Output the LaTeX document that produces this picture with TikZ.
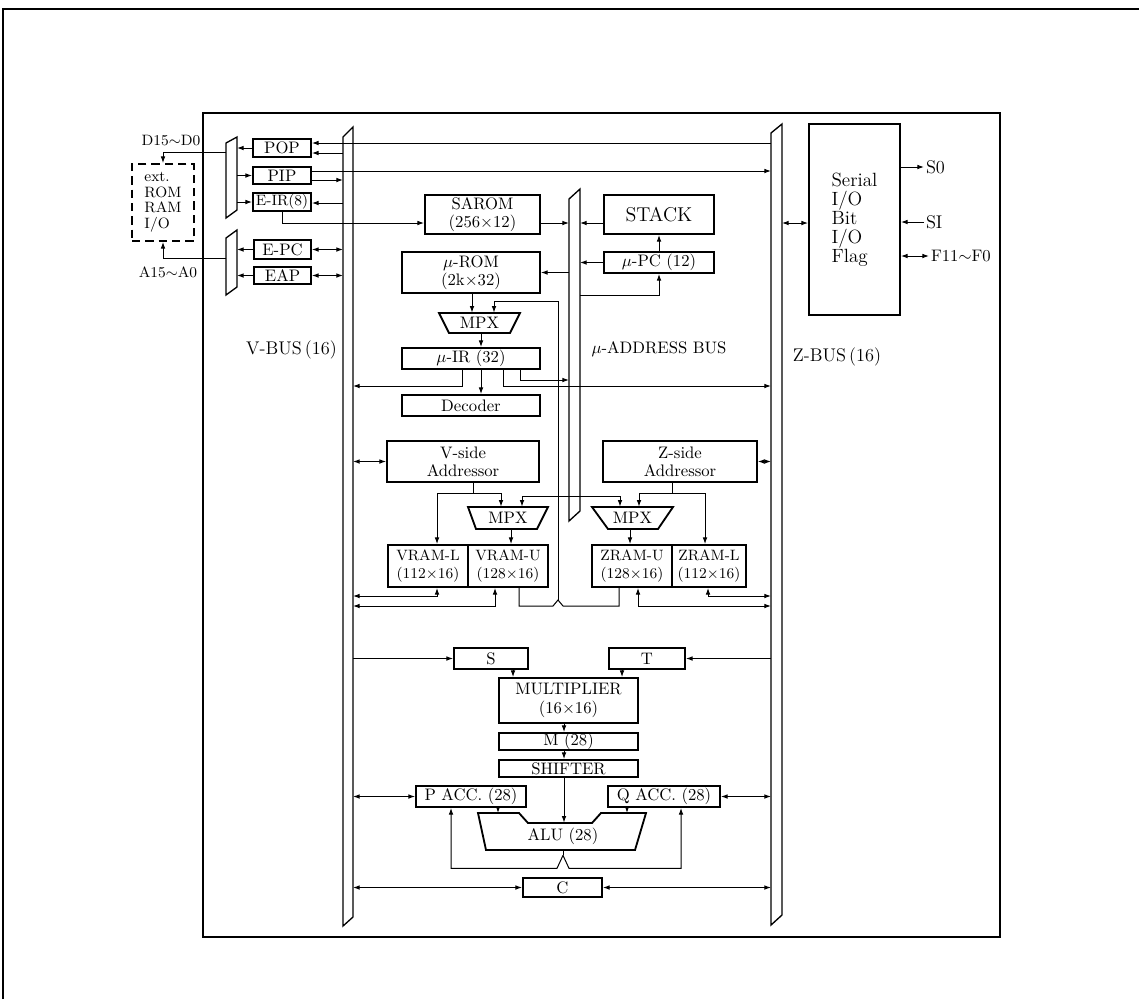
\documentclass[tikz,border=0pt]{standalone}
\usepackage{amsmath,amssymb}
\usepackage{tikz}
\usetikzlibrary{calc,arrows.meta}

\begin{document}
\begin{tikzpicture}[x=0.6pt, y=-0.6pt,
        blk/.style={draw, line width=1.1pt, inner sep=0pt, align=center, font=\fontsize{10}{11}\selectfont},
        wd/.style={minimum width=#1*0.6pt},
        ht/.style={minimum height=#1*0.6pt},
        lbl/.style={inner sep=1pt, font=\fontsize{10}{12}\selectfont},
        bus/.style={draw, line width=0.8pt},
        wire/.style={draw, line width=0.6pt},
        arr/.style={wire, -{Latex[length=4pt,width=2.8pt]}},
        darr/.style={wire, {Latex[length=4pt,width=2.8pt]}-{Latex[length=4pt,width=2.8pt]}}]
        \useasboundingbox (0,0) rectangle (1139,999);
        % frames
        \path[draw, line width=1.4pt](3,999)--(3,9)--(1139,9);
        \path[draw, line width=0.8pt](203,113)rectangle(1000,937);
        % buses
        \path[bus](343,137)--(353,127)--(353,917)--(343,926)--cycle;
        \path[bus](771,133)--(782,124)--(782,915)--(771,925)--cycle;
        \path[bus](569,199)--(580,189)--(580,511)--(569,521)--cycle;
        \coordinate (vL) at (343,0); \coordinate (vR) at (353,0);
        \coordinate (zL) at (771,0); \coordinate (zR) at (782,0);
        \coordinate (uL) at (569,0); \coordinate (uR) at (580,0);
        \node[lbl, font=\fontsize{11}{13}\selectfont] (vbl) at (291.5,350) {V-BUS\,(16)};
        \node[lbl] (ubl) at (659,349) {$\mu$-ADDRESS BUS};
        \node[lbl, font=\fontsize{11}{13}\selectfont] (zbl) at (837,357) {Z-BUS\,(16)};
        % external side
        \path[bus](226,143)--(237,137)--(237,210)--(226,218)--cycle;
        \path[bus](226,238)--(237,230)--(237,287)--(226,295)--cycle;
        \coordinate (mL) at (226,0); \coordinate (mR) at (237,0);
        \node[blk, dashed, dash pattern=on 5pt off 3pt, wd=62, ht=77, align=left, font=\fontsize{9}{9.3}\selectfont] (ext) at (163,202.5) {ext.\\ROM\\RAM\\I/O};
        \node[lbl, font=\fontsize{9}{11}\selectfont] (dlab) at (171,141) {D15$\sim$D0};
        \node[lbl, font=\fontsize{9}{11}\selectfont] (alab) at (168,272) {A15$\sim$A0};
        \path[arr](mL |- 0,152)-|(ext.north);
        \path[arr](mL |- 0,258)-|(ext.south);
        \node[blk, wd=58, ht=18] (pop) at (282,148) {POP};
        \node[blk, wd=58, ht=17] (pip) at (282,175.5) {PIP};
        \node[blk, wd=58, ht=18, font=\fontsize{9}{10}\selectfont] (eir) at (282,202) {E-IR(8)};
        \node[blk, wd=57, ht=19] (epc) at (282.5,249.5) {E-PC};
        \node[blk, wd=57, ht=17] (eap) at (282.5,275.5) {EAP};
        \path[arr](pop.west)--(mR |- pop.west);
        \path[arr](mR |- pip.west)--(pip.west);
        \path[arr](mR |- eir.west)--(eir.west);
        \path[arr](epc.west)--(mR |- epc.west);
        \path[arr](eap.west)--(mR |- eap.west);
        \path[arr](zL |- 0,143)--(pop.east |- 0,143);
        \path[arr](vL |- 0,153)--(pop.east |- 0,153);
        \path[arr](pip.east |- 0,171)--(zL |- 0,171);
        \path[arr](pip.east |- 0,180)--(vL |- 0,180);
        \path[arr](vL |- 0,203)--(eir.east |- 0,203);
        \path[darr](epc.east)--(vL |- epc.east);
        \path[darr](eap.east)--(vL |- eap.east);
        % sequencer
        \node[blk, wd=115, ht=39] (sarom) at (482.5,214.5) {SAROM\\(256$\times$12)};
        \node[blk, wd=110, ht=39, font=\fontsize{12}{14}\selectfont] (stack) at (659,214.5) {STACK};
        \node[blk, wd=110, ht=21] (upc) at (659,262.5) {$\mu$-PC (12)};
        \node[blk, wd=138, ht=41] (urom) at (471,272.5) {$\mu$-ROM\\(2k$\times$32)};
        \node[lbl, inner sep=0pt, wd=81, ht=20] (mpxa) at (479.5,323) {MPX};
        \path[draw, line width=1.1pt](439,313)--(520,313)--(510,333)--(449,333)--cycle;
        \node[blk, wd=138, ht=21] (uir) at (471,358.5) {$\mu$-IR (32)};
        \node[blk, wd=138, ht=21] (dec) at (471,405.5) {Decoder};
        \path[arr](eir.south)|-(sarom.west |- 0,223);
        \path[arr](sarom.east |- 0,223)--(uL |- 0,223);
        \path[arr](stack.west |- 0,223)--(uR |- 0,223);
        \path[arr](upc.north)--(stack.south);
        \path[arr](upc.west)--(uR |- upc.west);
        \path[arr](uR |- 0,295)-|(upc.south);
        \path[arr](uL |- urom.east)--(urom.east);
        \path[arr](urom.south -| 472,0)--(mpxa.north -| 472,0);
        \coordinate (fb) at (558,600);
        \path[arr](fb)|-(494,301)--(mpxa.north -| 494,0);
        \path[arr](mpxa.south -| 481,0)--(uir.north -| 481,0);
        \path[arr](uir.south -| 481,0)--(dec.north -| 481,0);
        \path[arr](uir.south -| 462,0)|-(vR |- 0,386);
        \path[arr](uir.south -| 503,0)|-(zL |- 0,386);
        \path[arr](uir.south -| 520,0)|-(uL |- 0,380);
        % data memory
        \node[blk, wd=152, ht=41] (vadr) at (463,461.5) {V-side\\Addressor};
        \node[blk, wd=154, ht=41] (zadr) at (680,461.5) {Z-side\\Addressor};
        \path[darr](vR |- vadr.west)--(vadr.west);
        \path[darr](zadr.east)--(zL |- zadr.east);
        \node[lbl, inner sep=0pt, wd=80, ht=22] (mpxb) at (508,518) {MPX};
        \path[draw, line width=1.1pt](468,507)--(548,507)--(537,529)--(476,529)--cycle;
        \node[lbl, inner sep=0pt, wd=81, ht=22] (mpxc) at (632.5,518) {MPX};
        \path[draw, line width=1.1pt](592,507)--(673,507)--(658,529)--(608,529)--cycle;
        \node[blk, wd=80, ht=42, font=\fontsize{9}{10.5}\selectfont] (vraml) at (428,566) {VRAM-L\\(112$\times$16)};
        \node[blk, wd=80, ht=42, font=\fontsize{9}{10.5}\selectfont] (vramu) at (508,566) {VRAM-U\\(128$\times$16)};
        \node[blk, wd=80, ht=42, font=\fontsize{9}{10.5}\selectfont] (zramu) at (632,566) {ZRAM-U\\(128$\times$16)};
        \node[blk, wd=74, ht=42, font=\fontsize{9}{10.5}\selectfont] (zraml) at (709,566) {ZRAM-L\\(112$\times$16)};
        \path[draw, wire](vadr.south -| 473,0)--(473,493)coordinate(vj);
        \path[arr](vj)-|(vraml.north -| 437,0);
        \path[arr](vj)-|(mpxb.north -| 501,0);
        \path[draw, wire](zadr.south -| 672,0)--(672,493)coordinate(zj);
        \path[arr](zj)-|(mpxc.north -| 639,0);
        \path[arr](zj)-|(zraml.north -| 705,0);
        \path[darr](mpxb.north -| 522,0)|-(620,496)--(mpxc.north -| 620,0);
        \path[arr](mpxb.south -| 511,0)--(vramu.north -| 511,0);
        \path[arr](mpxc.south -| 630,0)--(zramu.north -| 630,0);
        \path[darr](vR |- 0,596)-|(vraml.south -| 437,0);
        \path[darr](vR |- 0,606)-|(vramu.south -| 495,0);
        \path[darr](zL |- 0,596)-|(zraml.south -| 708,0);
        \path[darr](zL |- 0,606)-|(zramu.south -| 638,0);
        \path[draw, wire](vramu.south -| 519,0)|-(553,606)--(fb)--(563,606)-|(zramu.south -| 619,0);
        % arithmetic unit
        \node[blk, wd=74, ht=21] (sreg) at (491,658.5) {S};
        \node[blk, wd=76, ht=21] (treg) at (647,658.5) {T};
        \node[blk, wd=139, ht=45] (mult) at (568.5,700.5) {MULTIPLIER\\(16$\times$16)};
        \node[blk, wd=139, ht=17] (mreg) at (568.5,741.5) {M (28)};
        \node[blk, wd=139, ht=17] (shf) at (568.5,768.5) {SHIFTER};
        \node[blk, wd=110, ht=21] (pacc) at (471,796.5) {P ACC. (28)};
        \node[blk, wd=112, ht=21] (qacc) at (664,796.5) {Q ACC. (28)};
        \path[draw, line width=1.1pt](478,813)--(519,813)--(528,823)--(592,823)--(601,813)--(646,813)--(635,850)--(486,850)--cycle;
        \node[lbl, inner sep=0pt, wd=100, ht=27] (alu) at (563,836.5) {ALU (28)};
        \coordinate (alup) at (498,813); \coordinate (aluq) at (627,813);
        \node[blk, wd=79, ht=19] (creg) at (562.5,887.5) {C};
        \path[arr](vR |- sreg.west)--(sreg.west);
        \path[arr](zL |- treg.east)--(treg.east);
        \path[arr](sreg.south -| 513,0)--(mult.north -| 513,0);
        \path[arr](treg.south -| 622,0)--(mult.north -| 622,0);
        \path[arr](mult.south -| 564,0)--(mreg.north -| 564,0);
        \path[arr](mreg.south -| 564,0)--(shf.north -| 564,0);
        \path[arr](shf.south -| 564,0)--(alu.north -| 564,0);
        \path[arr](pacc.south -| alup)--(alup);
        \path[arr](qacc.south -| aluq)--(aluq);
        \path[darr](vR |- pacc.west)--(pacc.west);
        \path[darr](qacc.east)--(zL |- qacc.east);
        \path[draw, wire](alu.south)--++(0,5)coordinate(ao);
        \path[arr](ao)--++(-6,13)-|(pacc.south -| 451,0);
        \path[arr](ao)--++(6,13)-|(qacc.south -| 681,0);
        \path[darr](vR |- creg.west)--(creg.west);
        \path[darr](creg.east)--(zL |- creg.east);
        % serial i/o
        \node[blk, wd=91, ht=191, align=left, font=\fontsize{11.5}{11.4}\selectfont] (ser) at (854.5,219.5) {Serial\\I/O\\Bit\\I/O\\Flag};
        \path[darr](zR |- 0,223)--(ser.west |- 0,223);
        \node[lbl, anchor=west, font=\fontsize{11}{13}\selectfont] (so) at (924,167) {S0};
        \node[lbl, anchor=west, font=\fontsize{11}{13}\selectfont] (si) at (924,222) {SI};
        \node[lbl, anchor=west] (fl) at (929,256) {F11$\sim$F0};
        \path[arr](ser.east |- so.west)--(so.west);
        \path[arr](si.west)--(ser.east |- si.west);
        \path[darr](ser.east |- fl.west)--(fl.west);
\end{tikzpicture}
\end{document}
